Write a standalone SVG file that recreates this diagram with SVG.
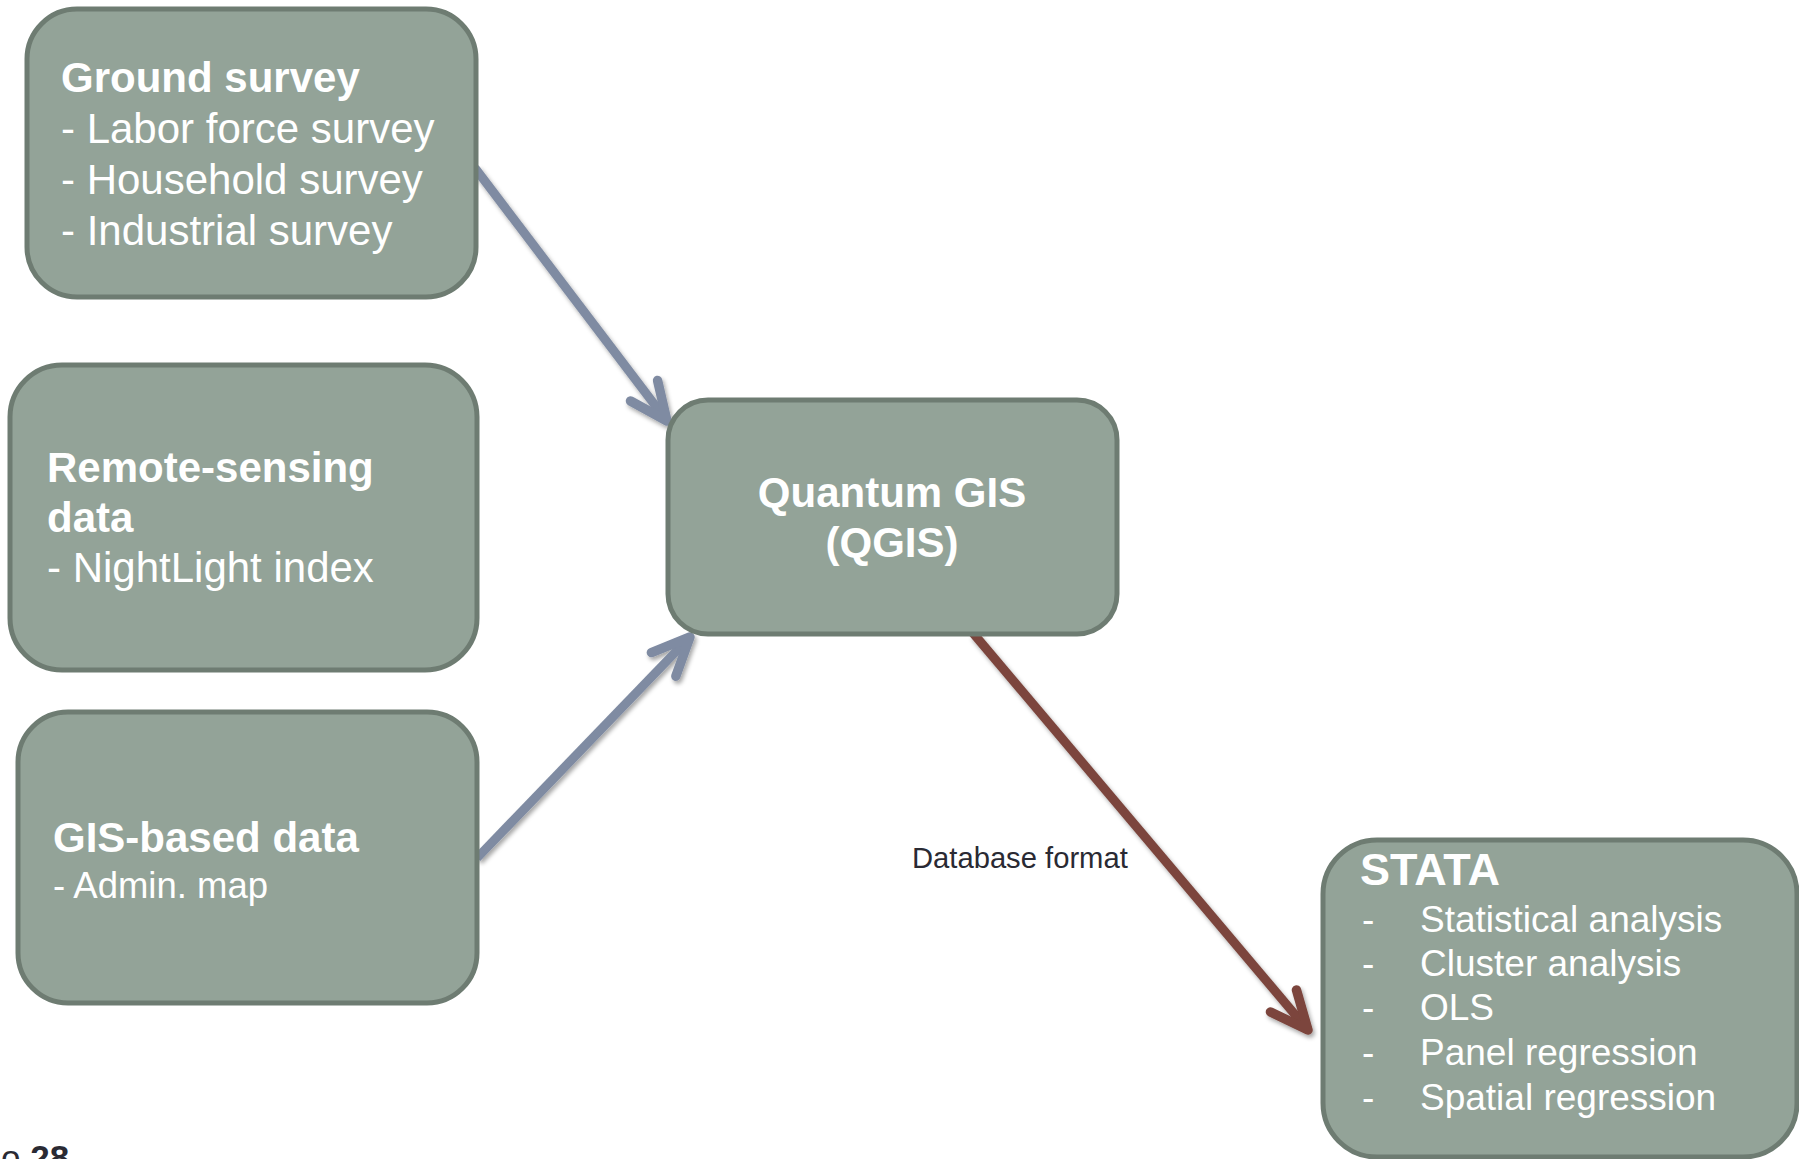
<svg xmlns="http://www.w3.org/2000/svg" width="1799" height="1159" viewBox="0 0 1799 1159">
  <style>
    .box { fill: #93a398; stroke: #6e7c72; stroke-width: 5; }
    .t { font-family: "Liberation Sans", Arial, sans-serif; fill: #ffffff; }
    .b { font-weight: bold; }
    .conn { fill: none; stroke-width: 9; stroke-linecap: butt; }
    .blue { stroke: #7f8ba2; }
    .brown { stroke: #7b453c; }
    .lbl { font-family: "Liberation Sans", Arial, sans-serif; fill: #2a2a33; }
  </style>
  <defs>
    <filter id="sh" x="-20%" y="-20%" width="140%" height="140%">
      <feDropShadow dx="2" dy="3" stdDeviation="2" flood-color="#000" flood-opacity="0.35"/>
    </filter>
    <marker id="ahBlue" markerUnits="userSpaceOnUse" viewBox="-50 -30 60 60" refX="0" refY="0" markerWidth="60" markerHeight="60" orient="auto" overflow="visible">
      <path d="M -38 -17 L 0 0 L -38 17" fill="none" stroke="#7f8ba2" stroke-width="9.5" stroke-linecap="round" stroke-linejoin="round"/>
    </marker>
    <marker id="ahBrown" markerUnits="userSpaceOnUse" viewBox="-50 -30 60 60" refX="0" refY="0" markerWidth="60" markerHeight="60" orient="auto" overflow="visible">
      <path d="M -38 -17 L 0 0 L -38 17" fill="none" stroke="#7b453c" stroke-width="9.5" stroke-linecap="round" stroke-linejoin="round"/>
    </marker>
  </defs>
  <rect width="1799" height="1159" fill="#ffffff"/>

  <g id="connectors">
    <path class="conn blue" filter="url(#sh)" d="M 475 168 L 667 421" marker-end="url(#ahBlue)"/>
    <path class="conn blue" filter="url(#sh)" d="M 477 526 L 667 526" marker-end="url(#ahBlue)"/>
    <path class="conn blue" filter="url(#sh)" d="M 477 858 L 690 637" marker-end="url(#ahBlue)"/>
    <path class="conn brown" filter="url(#sh)" d="M 973 633 L 1308 1030" marker-end="url(#ahBrown)"/>
    <text class="lbl" x="912" y="868" font-size="29.2">Database format</text>
  </g>

  <g id="ground-survey">
    <rect class="box" x="27" y="9" width="449" height="288" rx="50" ry="50"/>
    <text class="t b" x="61" y="92" font-size="42">Ground survey</text>
    <text class="t" x="61" y="143" font-size="42">- Labor force survey</text>
    <text class="t" x="61" y="194" font-size="42">- Household survey</text>
    <text class="t" x="61" y="245" font-size="42">- Industrial survey</text>
  </g>

  <g id="remote-sensing">
    <rect class="box" x="10" y="365" width="467" height="305" rx="52" ry="52"/>
    <text class="t b" x="47" y="482" font-size="42">Remote-sensing</text>
    <text class="t b" x="47" y="532" font-size="42">data</text>
    <text class="t" x="47" y="582" font-size="42">- NightLight index</text>
  </g>

  <g id="gis-based">
    <rect class="box" x="18" y="712" width="459" height="291" rx="50" ry="50"/>
    <text class="t b" x="53" y="852" font-size="42">GIS-based data</text>
    <text class="t" x="53" y="898" font-size="36.5">- Admin. map</text>
  </g>

  <g id="qgis">
    <rect class="box" x="668" y="400" width="449" height="234" rx="40" ry="40"/>
    <text class="t b" x="892" y="507" font-size="42" text-anchor="middle">Quantum GIS</text>
    <text class="t b" x="892" y="557" font-size="42" text-anchor="middle">(QGIS)</text>
  </g>

  <g id="stata">
    <rect class="box" x="1323" y="840" width="474" height="317" rx="54" ry="54"/>
    <text class="t b" x="1360" y="885" font-size="45">STATA</text>
    <g class="t" font-size="37">
      <text x="1362" y="932">-</text><text x="1420" y="932">Statistical analysis</text>
      <text x="1362" y="976">-</text><text x="1420" y="976">Cluster analysis</text>
      <text x="1362" y="1020">-</text><text x="1420" y="1020">OLS</text>
      <text x="1362" y="1065">-</text><text x="1420" y="1065">Panel regression</text>
      <text x="1362" y="1110">-</text><text x="1420" y="1110">Spatial regression</text>
    </g>
  </g>

  <g id="page-number">
    <text class="lbl" x="1" y="1170" font-size="35" fill="#1f1f2e">o <tspan font-weight="bold">28</tspan></text>
  </g>
</svg>
